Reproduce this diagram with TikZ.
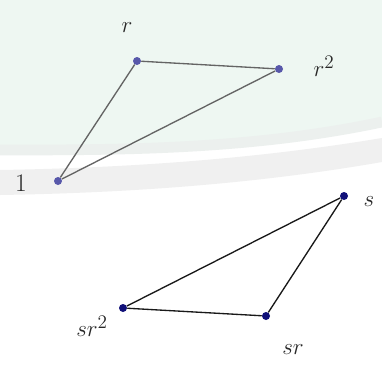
\documentclass[tikz,border=0pt]{standalone}
\definecolor{bggreen}{RGB}{238,247,242}
\definecolor{bgedge}{RGB}{236,240,238}
\definecolor{bggray}{RGB}{240,240,240}
\definecolor{ptlight}{RGB}{88,88,170}
\definecolor{ptdark}{RGB}{16,16,120}
\definecolor{edgegray}{RGB}{100,100,100}
\definecolor{edgedark}{RGB}{25,25,25}
\definecolor{labcol}{RGB}{40,40,40}
\begin{document}
\begin{tikzpicture}[x=0.75pt,y=-0.75pt,
  ptA/.style={circle,fill=ptlight,inner sep=0pt,minimum size=6pt},
  ptB/.style={circle,fill=ptdark,inner sep=0pt,minimum size=6pt},
  edgeA/.style={draw=edgegray,line width=1pt},
  edgeB/.style={draw=edgedark,line width=1pt},
  lab/.style={text=labcol,font=\fontsize{19}{22}\selectfont,inner sep=0pt}]
\useasboundingbox (0,0) rectangle (382,371);
% faint background
\fill[white] (0,0) rectangle (382,371);
\fill[bggreen] (0,0) -- (382,0) -- (382,122) .. controls (250,150) and (120,150) .. (0,150) -- cycle;
\draw[bgedge,line width=8pt] (0,150) .. controls (120,150) and (250,150) .. (382,122);
\fill[bggray] (0,170) .. controls (120,168) and (250,160) .. (382,138) -- (382,162) .. controls (250,185) and (120,193) .. (0,195) -- cycle;
% top triangle
\node[ptA] (one) at (58,181) {};
\node[ptA] (r) at (137,61) {};
\node[ptA] (r2) at (279,69) {};
\draw[edgeA] (one) -- (r) -- (r2) -- (one);
% bottom triangle
\node[ptB] (s) at (344,196) {};
\node[ptB] (sr) at (266,316) {};
\node[ptB] (sr2) at (123,308) {};
\draw[edgeB] (s) -- (sr) -- (sr2) -- (s);
% labels
\node[lab] (lr) at (127,28) {$r$};
\node[lab] (lr2) at (324,66) {$r^2$};
\node[lab] (l1) at (21,183) {1};
\node[lab] (ls) at (369,202) {$s$};
\node[lab] (lsr2) at (92,326) {$sr^2$};
\node[lab] (lsr) at (293,350) {$sr$};
\end{tikzpicture}
\end{document}
